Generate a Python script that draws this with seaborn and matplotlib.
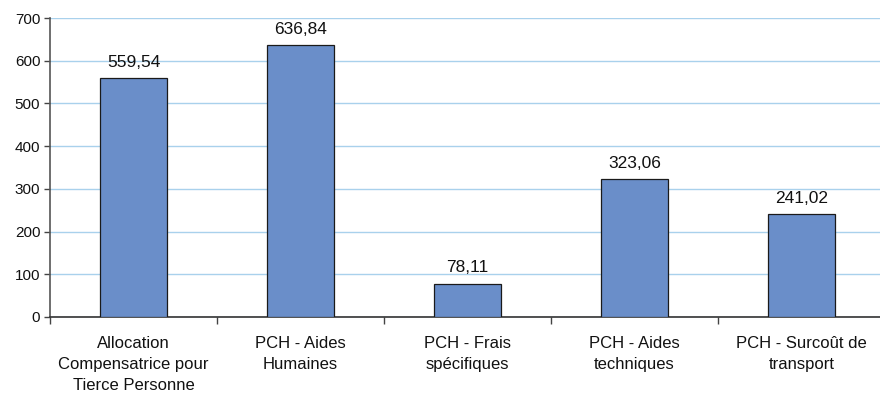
import matplotlib
matplotlib.use("Agg")
import matplotlib.pyplot as plt
import seaborn as sns
import pandas as pd

categories = [
    "Allocation\nCompensatrice pour\nTierce Personne",
    "PCH - Aides\nHumaines",
    "PCH - Frais\nspécifiques",
    "PCH - Aides\ntechniques",
    "PCH - Surcoût de\ntransport",
]
values = [559.54, 636.84, 78.11, 323.06, 241.02]
value_labels = ["559,54", "636,84", "78,11", "323,06", "241,02"]
yticks = [0, 100, 200, 300, 400, 500, 600, 700]

sns.set_theme(style="white")
plt.rcParams["font.family"] = ["Liberation Sans", "DejaVu Sans"]

df = pd.DataFrame({"cat": categories, "val": values})

fig = plt.figure(figsize=(8.8, 3.93), dpi=100)
ax = fig.add_axes([50 / 880, 76 / 393, 835 / 880, 299 / 393])

sns.barplot(data=df, x="cat", y="val", ax=ax, color="#6a8ec9",
            saturation=1, width=0.4, edgecolor="#1a1a1a", linewidth=0.9,
            zorder=3)

ax.set_ylim(0, 700)
ax.set_xlim(-0.5, 4.5)
ax.set_yticks(yticks)
ax.set_yticklabels([str(t) for t in yticks], fontsize=11, color="#111111")
ax.yaxis.grid(True, color="#a9d1ec", linewidth=1.0, zorder=0)
ax.xaxis.grid(False)

# category ticks sit between the bars
ax.set_xticks([i - 0.5 for i in range(len(categories) + 1)], minor=False)
ax.set_xticklabels([""] * (len(categories) + 1))
ax.set_xticks(range(len(categories)), minor=True)
ax.set_xticklabels(categories, minor=True, fontsize=12, color="#111111",
                   linespacing=1.5)
ax.tick_params(axis="x", which="major", length=5, width=1, color="#444444",
               direction="out", bottom=True)
ax.tick_params(axis="x", which="minor", length=0, pad=14)
ax.tick_params(axis="y", length=4, width=1, color="#444444", direction="out",
               left=True, pad=3)

ax.set_xlabel("")
ax.set_ylabel("")
for side in ["top", "right"]:
    ax.spines[side].set_visible(False)
ax.spines["left"].set_color("#555555")
ax.spines["bottom"].set_color("#333333")
ax.spines["left"].set_linewidth(1.2)
ax.spines["bottom"].set_linewidth(1.2)

for i, (v, lab) in enumerate(zip(values, value_labels)):
    ax.annotate(lab, (i, v), xytext=(0, 6), textcoords="offset points",
                ha="center", va="bottom", fontsize=12.5, color="#111111")

fig.savefig("out.png", dpi=100)
